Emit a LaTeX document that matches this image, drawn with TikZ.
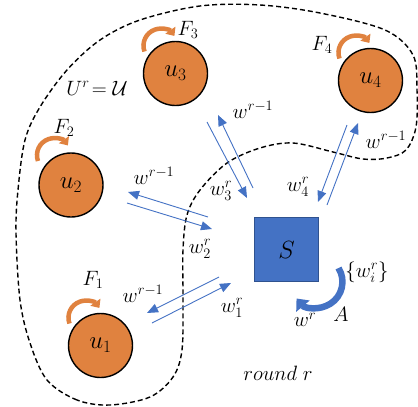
\documentclass[tikz,border=0pt]{standalone}
\usetikzlibrary{arrows.meta}
\definecolor{uorange}{HTML}{E0823F}
\definecolor{sblue}{HTML}{4472C4}
\definecolor{sborder}{HTML}{2F528F}
\begin{document}
\begin{tikzpicture}[x=1pt,y=-1pt,
  unode/.style={circle,draw=black,line width=1.4pt,fill=uorange,minimum size=64pt,inner sep=0pt,font=\fontsize{25}{30}\selectfont},
  snode/.style={rectangle,draw=sborder,line width=1pt,fill=sblue,minimum size=64pt,inner sep=0pt,font=\fontsize{25}{30}\selectfont},
  lbl/.style={inner sep=0pt,font=\fontsize{21}{25}\selectfont},
  farrow/.style={draw=uorange,line width=4.5pt,-{Triangle[width=12pt,length=7pt]}},
  barrow/.style={draw=sblue,line width=0.9pt,-{Triangle[width=9pt,length=11pt]}},
  aarrow/.style={draw=sblue,line width=6.5pt,-{Triangle[width=17pt,length=10pt]}},
  boundary/.style={draw=black,line width=1.4pt,dash pattern=on 5pt off 3pt}]
\useasboundingbox (0,0) rectangle (418,407);

% boundary of U^r
\draw[boundary] plot[smooth cycle, tension=0.55] coordinates{
 (110,405) (77,400) (47,380) (30,343) (20,300) (16,233) (18,190) (25,140)
 (40,107) (67,70) (100,40) (140,20) (200,6) (260,5) (320,13) (385,30)
 (413,55) (417,90) (416,127) (406,150) (387,158) (363,159) (333,152)
 (293,143) (260,148) (227,163) (200,190) (187,215) (183,250) (183,300)
 (182,350) (173,377) (150,397)};

% clients and server
\node[unode] (u3) at (175.5,73.5) {$u_3$};
\node[unode] (u4) at (370.5,80.5) {$u_4$};
\node[unode] (u2) at (71,185) {$u_2$};
\node[unode] (u1) at (100.5,345.5) {$u_1$};
\node[snode] (S) at (286.5,249.5) {$S$};

% local training arrows
\foreach \u in {u1,u3,u4}{
  \draw[farrow] ([shift={(-31,-22)}]\u.center) arc[start angle=160,end angle=325,radius=17];
}
\draw[farrow] ([shift={(-33,-24)}]u2.center) arc[start angle=160,end angle=325,radius=17];
\node[lbl] (lF3) at (188,30) {$F_3$};
\node[lbl] (lF4) at (322,45) {$F_4$};
\node[lbl] (lF2) at (64,128) {$F_2$};
\node[lbl] (lF1) at (93,280) {$F_1$};

% aggregation arrow
\draw[aarrow] ([shift={(19.5,-14)}]S.south east) arc[start angle=-32,end angle=140,radius=26];

% communication arrows
\coordinate (p3a) at (253,188); \coordinate (p3b) at (218,115);
\coordinate (q3a) at (207,122); \coordinate (q3b) at (247,198);
\coordinate (p4a) at (327,205); \coordinate (p4b) at (358,123);
\coordinate (q4a) at (347,125); \coordinate (q4b) at (318,202);
\coordinate (p2a) at (208,217); \coordinate (p2b) at (128,192);
\coordinate (q2a) at (127,203); \coordinate (q2b) at (212,229);
\coordinate (p1a) at (219,277); \coordinate (p1b) at (147,313);
\coordinate (q1a) at (152,323); \coordinate (q1b) at (231,283);
\draw[barrow] (p3a) -- (p3b);
\draw[barrow] (q3a) -- (q3b);
\draw[barrow] (p4a) -- (p4b);
\draw[barrow] (q4a) -- (q4b);
\draw[barrow] (p2a) -- (p2b);
\draw[barrow] (q2a) -- (q2b);
\draw[barrow] (p1a) -- (p1b);
\draw[barrow] (q1a) -- (q1b);

% labels
\node[lbl] (lU) at (97,88) {$U^r\!=\mathcal{U}$};
\node[lbl] (l3a) at (253,110) {$w^{r-1}$};
\node[lbl] (l3b) at (221,191) {$w_3^r$};
\node[lbl] (l4a) at (386,140) {$w^{r-1}$};
\node[lbl] (l4b) at (298,187) {$w_4^r$};
\node[lbl] (l2a) at (154,176) {$w^{r-1}$};
\node[lbl] (l2b) at (200,249) {$w_2^r$};
\node[lbl] (l1a) at (143,294) {$w^{r-1}$};
\node[lbl] (l1b) at (232,308) {$w_1^r$};
\node[lbl] (lwi) at (367,272) {$\{w_i^r\}$};
\node[lbl] (lwr) at (305,320) {$w^r$};
\node[lbl] (lA) at (341,314) {$A$};
\node[lbl] (lround) at (278,373) {$round\;r$};
\end{tikzpicture}
\end{document}
